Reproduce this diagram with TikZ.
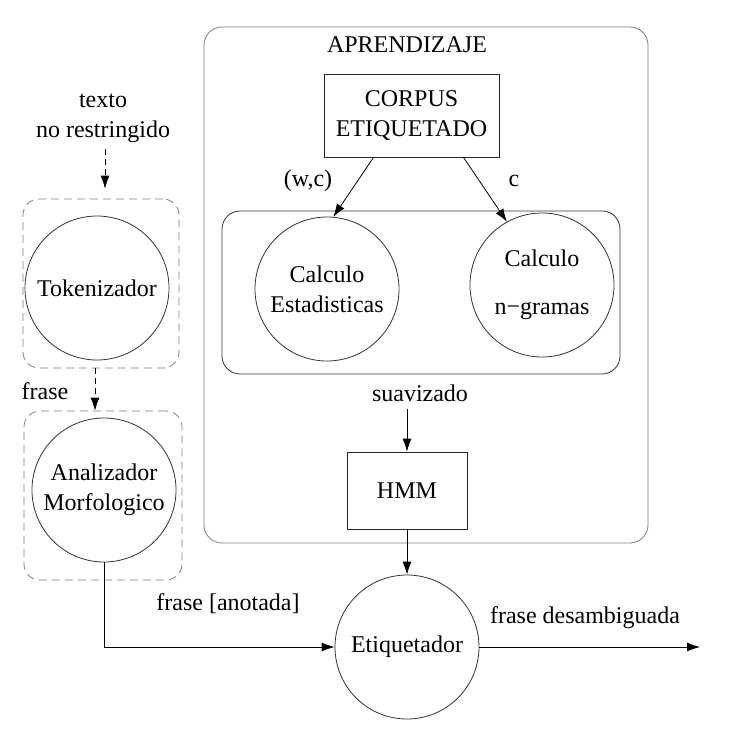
\documentclass[tikz,border=0pt]{standalone}
\usepackage{fontspec}
\setmainfont{Liberation Serif}
\usetikzlibrary{arrows.meta}
\begin{document}
\begin{tikzpicture}[x=0.5pt, y=-0.5pt,
    font=\fontsize{12}{15}\selectfont,
    procnode/.style={draw=black!80, circle, minimum size=72pt, inner sep=0pt, align=center},
    boxnode/.style={draw=black!85, rectangle, inner sep=0pt, align=center},
    stage/.style={draw=black!50, rounded corners=9pt, inner sep=0pt},
    group/.style={draw=black!50, dash pattern=on 4pt off 2.5pt, rounded corners=8pt, inner sep=0pt},
    flow/.style={-{Latex[length=6.5pt, width=4.5pt]}, black},
    dashflow/.style={flow, dash pattern=on 3pt off 2pt},
]
    \useasboundingbox (0,0) rectangle (738,746);

    % containers
    \node[stage, minimum width=222pt, minimum height=258pt] (aprgrp) at (426,285) {};
    \node[stage, draw=black!80, minimum width=199pt, minimum height=81.5pt] (calcgrp) at (421,292.5) {};
    \node[group, minimum width=78pt, minimum height=84.5pt] (tokgrp) at (101,283.5) {};
    \node[group, minimum width=79pt, minimum height=84.5pt] (anagrp) at (103,495.5) {};

    % learning part
    \node (aprend) at (407,45) {APRENDIZAJE};
    \node[boxnode, minimum width=87.5pt, minimum height=41.5pt] (corpus) at (411.5,115.5) {CORPUS\\ETIQUETADO};
    \node[procnode] (calcest) at (327,289) {Calculo\\Estadisticas};
    \node[procnode] (calcngr) at (542,285) {Calculo\\[9pt]n−gramas};
    \node (lwc) at (308,181) {(w,c)};
    \node (lc) at (514,181) {c};
    \node (suav) at (420,393) {suavizado};
    \node[boxnode, minimum width=60pt, minimum height=38.5pt] (hmm) at (407,490.5) {HMM};

    % tagging part
    \node[align=center] (texto) at (103,118) {texto\\no restringido};
    \node[procnode] (token) at (97,288) {Tokenizador};
    \node (frase) at (45,391) {frase};
    \node[procnode] (analiz) at (104,490) {Analizador\\Morfologico};
    \node (franot) at (228,604) {frase [anotada]};
    \node[procnode] (etiq) at (407,647) {Etiquetador};
    \node (frdes) at (585,618) {frase desambiguada};
    \coordinate (salida) at (700,647);

    \draw[flow] ([xshift=-19pt]corpus.south) -- (calcest.85);
    \draw[flow] ([xshift=26pt]corpus.south) -- (calcngr.119);
    \draw[flow] (suav.south -| hmm.north) -- (hmm.north);
    \draw[flow] (hmm.south) -- (etiq.north);
    \draw[dashflow, shorten >=5pt] ([xshift=1pt]texto.south) -- ([xshift=1pt]texto.south |- tokgrp.north);
    \draw[dashflow] ([xshift=-3pt]tokgrp.south) -- ([xshift=-3pt]tokgrp.south |- anagrp.north);
    \draw[flow] (analiz.south) |- (etiq.west);
    \draw[flow] (etiq.east) -- (salida);
\end{tikzpicture}
\end{document}
